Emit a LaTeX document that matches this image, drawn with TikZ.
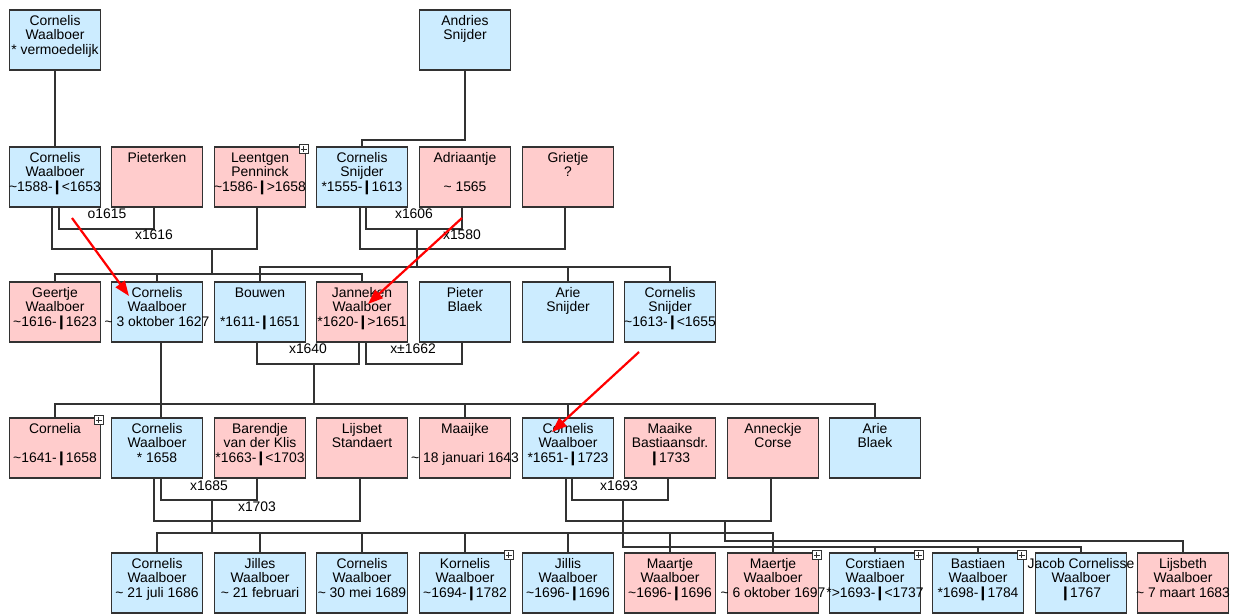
\documentclass[tikz,border=0pt]{standalone}
\usepackage{fontspec}
\setmainfont{Liberation Sans}
\newfontfamily\djv{DejaVu Sans}
\usetikzlibrary{arrows.meta,calc}
\definecolor{bluebox}{RGB}{204,236,255}
\definecolor{pinkbox}{RGB}{255,204,204}
\definecolor{edgecol}{RGB}{50,50,50}
\newcommand{\dg}{{\kern-1.3pt\djv\char"2759\kern-1.3pt}}
\newcommand{\tl}{\textasciitilde}
\begin{document}
\begin{tikzpicture}[x=1pt,y=-1pt,
 pbox/.style={draw=edgecol, line width=1.7pt, minimum width=91pt, minimum height=60pt, inner sep=0pt},
 man/.style={pbox, fill=bluebox},
 woman/.style={pbox, fill=pinkbox},
 txt/.style={anchor=north, align=center, inner sep=0pt, yshift=-5.6pt, font=\fontsize{13.9}{14.5}\selectfont},
 lbl/.style={inner sep=0pt, font=\fontsize{13.9}{14.5}\selectfont},
 link/.style={draw=edgecol, line width=1.8pt},
 plusbox/.style={draw=edgecol, fill=white, line width=0.9pt, minimum size=9.5pt, inner sep=0pt,
   path picture={\draw[edgecol, line width=1.2pt] ([xshift=-2.8pt]path picture bounding box.center) -- ([xshift=2.8pt]path picture bounding box.center);
   \draw[edgecol, line width=1.2pt] ([yshift=-2.8pt]path picture bounding box.center) -- ([yshift=2.8pt]path picture bounding box.center);}},
 redarrow/.style={draw=red, line width=2.2pt, -{Triangle[length=15pt,width=11pt]}}]
\fill[white] (0,0) rectangle (1246,614);
\useasboundingbox (0,0) rectangle (1246,614);
% ---------- boxes ----------
\node[man] (r1c0) at (55,40) {};
\node[man] (r1c4) at (465,40) {};
\node[man] (r2c0) at (55,177) {};
\node[woman] (r2c1) at (157,177) {};
\node[woman] (r2c2) at (260,177) {};
\node[man] (r2c3) at (362,177) {};
\node[woman] (r2c4) at (465,177) {};
\node[woman] (r2c5) at (568,177) {};
\node[woman] (r3c0) at (55,312) {};
\node[man] (r3c1) at (157,312) {};
\node[man] (r3c2) at (260,312) {};
\node[woman] (r3c3) at (362,312) {};
\node[man] (r3c4) at (465,312) {};
\node[man] (r3c5) at (568,312) {};
\node[man] (r3c6) at (670,312) {};
\node[woman] (r4c0) at (55,448) {};
\node[man] (r4c1) at (157,448) {};
\node[woman] (r4c2) at (260,448) {};
\node[woman] (r4c3) at (362,448) {};
\node[woman] (r4c4) at (465,448) {};
\node[man] (r4c5) at (568,448) {};
\node[woman] (r4c6) at (670,448) {};
\node[woman] (r4c7) at (773,448) {};
\node[man] (r4c8) at (875,448) {};
\node[man] (r5c1) at (157,583) {};
\node[man] (r5c2) at (260,583) {};
\node[man] (r5c3) at (362,583) {};
\node[man] (r5c4) at (465,583) {};
\node[man] (r5c5) at (568,583) {};
\node[woman] (r5c6) at (670,583) {};
\node[woman] (r5c7) at (773,583) {};
\node[man] (r5c8) at (875,583) {};
\node[man] (r5c9) at (978,583) {};
\node[man] (r5c10) at (1081,583) {};
\node[woman] (r5c11) at (1183,583) {};
% ---------- expand icons ----------
\node[plusbox] (p1) at ([xshift=-2.5pt,yshift=-3pt]r2c2.north east) {};
\node[plusbox] (p2) at ([xshift=-2.5pt,yshift=-3pt]r4c0.north east) {};
\node[plusbox] (p3) at ([xshift=-2.5pt,yshift=-3pt]r5c4.north east) {};
\node[plusbox] (p4) at ([xshift=-2.5pt,yshift=-3pt]r5c7.north east) {};
\node[plusbox] (p5) at ([xshift=-2.5pt,yshift=-3pt]r5c8.north east) {};
\node[plusbox] (p6) at ([xshift=-2.5pt,yshift=-3pt]r5c9.north east) {};
% ---------- texts ----------
\node[txt] (t1c0) at (r1c0.north) {\strut Cornelis\\Waalboer\\* vermoedelijk};
\node[txt] (t1c4) at (r1c4.north) {\strut Andries\\Snijder};
\node[txt] (t2c0) at (r2c0.north) {\strut Cornelis\\Waalboer\\\tl1588-\dg<1653};
\node[txt] (t2c1) at (r2c1.north) {\strut Pieterken};
\node[txt] (t2c2) at (r2c2.north) {\strut Leentgen\\Penninck\\\tl1586-\dg>1658};
\node[txt] (t2c3) at (r2c3.north) {\strut Cornelis\\Snijder\\*1555-\dg1613};
\node[txt] (t2c4) at (r2c4.north) {\strut Adriaantje\\\mbox{}\\\tl\ 1565};
\node[txt] (t2c5) at (r2c5.north) {\strut Grietje\\?};
\node[txt] (t3c0) at (r3c0.north) {\strut Geertje\\Waalboer\\\tl1616-\dg1623};
\node[txt] (t3c1) at (r3c1.north) {\strut Cornelis\\Waalboer\\\tl\ 3 oktober 1627};
\node[txt] (t3c2) at (r3c2.north) {\strut Bouwen\\\mbox{}\\*1611-\dg1651};
\node[txt] (t3c3) at (r3c3.north) {\strut Janneken\\Waalboer\\*1620-\dg>1651};
\node[txt] (t3c4) at (r3c4.north) {\strut Pieter\\Blaek};
\node[txt] (t3c5) at (r3c5.north) {\strut Arie\\Snijder};
\node[txt] (t3c6) at (r3c6.north) {\strut Cornelis\\Snijder\\\tl1613-\dg<1655};
\node[txt] (t4c0) at (r4c0.north) {\strut Cornelia\\\mbox{}\\\tl1641-\dg1658};
\node[txt] (t4c1) at (r4c1.north) {\strut Cornelis\\Waalboer\\* 1658};
\node[txt] (t4c2) at (r4c2.north) {\strut Barendje\\van der Klis\\*1663-\dg<1703};
\node[txt] (t4c3) at (r4c3.north) {\strut Lijsbet\\Standaert};
\node[txt] (t4c4) at (r4c4.north) {\strut Maaijke\\\mbox{}\\\tl\ 18 januari 1643};
\node[txt] (t4c5) at (r4c5.north) {\strut Cornelis\\Waalboer\\*1651-\dg1723};
\node[txt] (t4c6) at (r4c6.north) {\strut Maaike\\Bastiaansdr.\\\dg1733};
\node[txt] (t4c7) at (r4c7.north) {\strut Anneckje\\Corse};
\node[txt] (t4c8) at (r4c8.north) {\strut Arie\\Blaek};
\node[txt] (t5c1) at (r5c1.north) {\strut Cornelis\\Waalboer\\\tl\ 21 juli 1686};
\node[txt] (t5c2) at (r5c2.north) {\strut Jilles\\Waalboer\\\tl\ 21 februari};
\node[txt] (t5c3) at (r5c3.north) {\strut Cornelis\\Waalboer\\\tl\ 30 mei 1689};
\node[txt] (t5c4) at (r5c4.north) {\strut Kornelis\\Waalboer\\\tl1694-\dg1782};
\node[txt] (t5c5) at (r5c5.north) {\strut Jillis\\Waalboer\\\tl1696-\dg1696};
\node[txt] (t5c6) at (r5c6.north) {\strut Maartje\\Waalboer\\\tl1696-\dg1696};
\node[txt] (t5c7) at (r5c7.north) {\strut Maertje\\Waalboer\\\tl\ 6 oktober 1697};
\node[txt] (t5c8) at (r5c8.north) {\strut Corstiaen\\Waalboer\\*>1693-\dg<1737};
\node[txt] (t5c9) at (r5c9.north) {\strut Bastiaen\\Waalboer\\*1698-\dg1784};
\node[txt] (t5c10) at (r5c10.north) {\strut Jacob Cornelisse\\Waalboer\\\dg1767};
\node[txt] (t5c11) at (r5c11.north) {\strut Lijsbeth\\Waalboer\\\tl\ 7 maart 1683};
% ---------- connectors ----------
\draw[link] (r1c0) -- (r2c0);
\draw[link] (r1c4.south) -- ++(0,69) -| (r2c3.north);
% row 2 marriages
\draw[link] ([xshift=4pt]r2c0.south) -- ++(0,21) -| ([xshift=-3pt]r2c1.south);
\draw[link] ([xshift=-3pt]r2c0.south) -- ++(0,41) -| ([xshift=-3pt]r2c2.south);
\draw[link] ([xshift=4pt]r2c3.south) -- ++(0,21) -| ([xshift=-3pt]r2c4.south);
\draw[link] ([xshift=-2pt]r2c3.south) -- ++(0,41) -| ([xshift=-3pt]r2c5.south);
\coordinate (k1616) at (212,248);
\coordinate (k1606) at (417,228);
\draw[link] (k1616) -- ++(0,27);
\draw[link] (r3c0.north) -- ++(0,-7) -| (r3c3.north);
\draw[link] (r3c1.north) -- ++(0,-7);
\draw[link] (k1606) -- ++(0,40);
\draw[link] (r3c2.north) -- ++(0,-14) -| (r3c6.north);
\draw[link] (r3c5.north) -- ++(0,-14);
% row 3 marriages
\draw[link] ([xshift=-3pt]r3c2.south) -- ++(0,21) -| ([xshift=-3pt]r3c3.south);
\draw[link] ([xshift=4pt]r3c3.south) -- ++(0,21) -| ([xshift=-3pt]r3c4.south);
\coordinate (k1640) at (314,363);
\draw[link] (k1640) -- ++(0,42);
\draw[link] (r4c0.north) -- ++(0,-13) -| (r4c8.north);
\draw[link] (r4c4.north) -- ++(0,-13);
\draw[link] (r4c5.north) -- ++(0,-13);
\draw[link] ([xshift=4pt]r3c1.south) -- ([xshift=4pt]r4c1.north);
% row 4 marriages
\draw[link] ([xshift=4pt]r4c1.south) -- ++(0,21) -| ([xshift=-3pt]r4c2.south);
\draw[link] ([xshift=-3pt]r4c1.south) -- ++(0,42) -| ([xshift=-2pt]r4c3.south);
\draw[link] ([xshift=4pt]r4c5.south) -- ++(0,21) -| ([xshift=-2pt]r4c6.south);
\draw[link] ([xshift=-2pt]r4c5.south) -- ++(0,42) -| ([xshift=-2pt]r4c7.south);
\coordinate (k1685) at (212,499);
\coordinate (k1693) at (623,499);
\coordinate (kAC) at (725,520);
\draw[link] (k1685) -- ++(0,35);
\draw[link] (r5c1.north) -- ++(0,-19) -| (r5c7.north);
\foreach \c in {2,...,6} {\draw[link] (r5c\c.north) -- ++(0,-19);}
\draw[link] (k1693) -- ++(0,48) -| (r5c10.north);
\draw[link] (r5c8.north) -- ++(0,-6);
\draw[link] (r5c9.north) -- ++(0,-6);
\draw[link] (kAC) -- ++(0,21) -| (r5c11.north);
% ---------- marriage labels ----------
\node[lbl] (l1615) at (107,214) {o1615};
\node[lbl] (l1616) at (154,235) {x1616};
\node[lbl] (l1606) at (414,214) {x1606};
\node[lbl] (l1580) at (462,235) {x1580};
\node[lbl] (l1640) at (308,349) {x1640};
\node[lbl] (l1662) at (413,349) {x\char"00B1 1662};
\node[lbl] (l1685) at (209,486) {x1685};
\node[lbl] (l1703) at (257,507) {x1703};
\node[lbl] (l1693) at (619,486) {x1693};
% ---------- red arrows ----------
\coordinate (a1s) at (72,218);  \coordinate (a1e) at (129,296);
\coordinate (a2s) at (462,218); \coordinate (a2e) at (368,304);
\coordinate (a3s) at (639,352); \coordinate (a3e) at (552,432);
\draw[redarrow] (a1s) -- (a1e);
\draw[redarrow] (a2s) -- (a2e);
\draw[redarrow] (a3s) -- (a3e);
\end{tikzpicture}
\end{document}
